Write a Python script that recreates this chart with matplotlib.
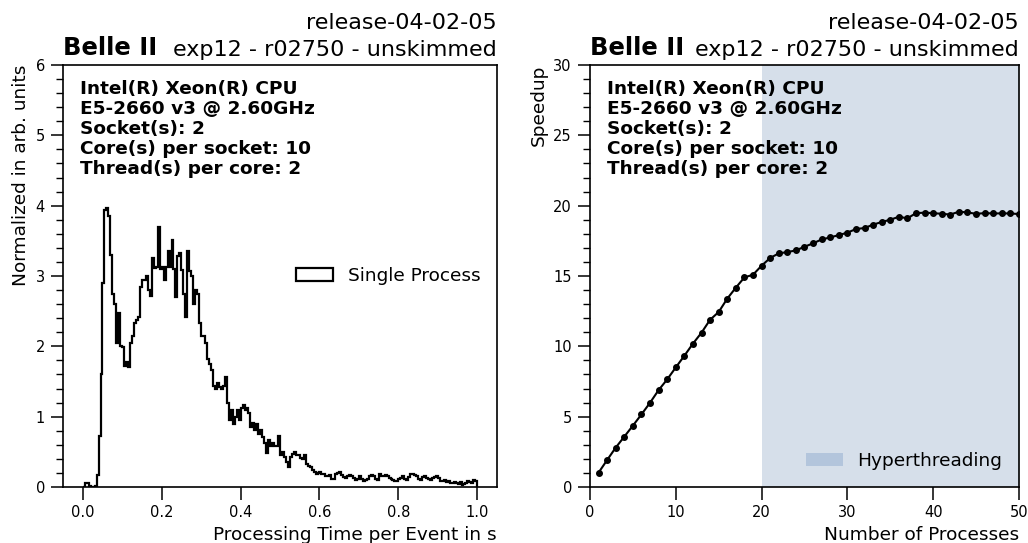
import numpy as np
import matplotlib
matplotlib.use("Agg")
import matplotlib.pyplot as plt
from matplotlib.ticker import MultipleLocator

# --- data ---
hist_values = [
    0.0, 0.06, 0.05, 0.02, 0.0, 0.0, 0.02, 0.17, 0.72, 1.6, 2.9,
    3.94, 3.96, 3.85, 3.3, 2.75, 2.6, 2.05, 2.48, 2.0, 1.99,
    1.72, 1.78, 1.70, 2.05, 2.14, 2.33, 2.38, 2.42, 2.85, 2.94,
    2.95, 3.0, 2.8, 2.72, 3.25, 3.12, 3.13, 3.70, 3.1, 3.13,
    2.94, 3.13, 3.35, 3.13, 3.51, 3.1, 2.70, 3.28, 3.32, 3.08,
    2.75, 2.42, 3.35, 3.07, 3.0, 2.6, 2.8, 2.75, 2.33, 2.14,
    2.14, 2.05, 1.82, 1.75, 1.66, 1.43, 1.40, 1.48, 1.42, 1.40,
    1.43, 1.57, 1.19, 0.95, 1.1, 0.9, 1.0, 1.1, 0.95, 1.13,
    1.17, 1.1, 1.13, 1.05, 0.86, 0.91, 0.81, 0.90, 0.76, 0.81,
    0.71, 0.62, 0.48, 0.67, 0.58, 0.62, 0.58, 0.58, 0.72, 0.45,
    0.50, 0.43, 0.35, 0.29, 0.42, 0.47, 0.50, 0.46, 0.45, 0.41,
    0.40, 0.45, 0.33, 0.30, 0.28, 0.24, 0.22, 0.19, 0.20, 0.21,
    0.18, 0.19, 0.15, 0.16, 0.17, 0.12, 0.11, 0.19, 0.20, 0.22,
    0.17, 0.14, 0.13, 0.16, 0.17, 0.15, 0.13, 0.10, 0.12, 0.15,
    0.12, 0.08, 0.10, 0.11, 0.15, 0.17, 0.16, 0.11, 0.10, 0.19,
    0.16, 0.15, 0.17, 0.16, 0.13, 0.11, 0.10, 0.09, 0.08, 0.12,
    0.13, 0.15, 0.12, 0.10, 0.14, 0.18, 0.19, 0.17, 0.16, 0.12,
    0.10, 0.14, 0.15, 0.13, 0.11, 0.10, 0.13, 0.14, 0.15, 0.13,
    0.08, 0.09, 0.10, 0.07, 0.08, 0.05, 0.06, 0.07, 0.05, 0.04,
    0.07, 0.03, 0.04, 0.06, 0.09, 0.07, 0.05, 0.10, 0.09,
]
hist_range = (0.0, 1.0)

n_processes = list(range(1, 51))
speedup = [
    1.02, 1.92, 2.80, 3.58, 4.36, 5.16, 5.99, 6.89, 7.65, 8.50,
    9.33, 10.19, 10.97, 11.89, 12.44, 13.39, 14.17, 14.90, 15.09, 15.73,
    16.28, 16.61, 16.70, 16.82, 17.08, 17.32, 17.60, 17.74, 17.91, 18.08,
    18.34, 18.41, 18.65, 18.84, 19.00, 19.21, 19.10, 19.47, 19.50, 19.47,
    19.42, 19.37, 19.57, 19.52, 19.42, 19.47, 19.45, 19.45, 19.45, 19.40,
]
physical_cores = 20

cpu_info = ("Intel(R) Xeon(R) CPU\nE5-2660 v3 @ 2.60GHz\nSocket(s): 2\n"
            "Core(s) per socket: 10\nThread(s) per core: 2")
release = "release-04-02-05"
run_info = "exp12 - r02750 - unskimmed"

plt.rcParams['font.family'] = ['DejaVu Sans']

fig = plt.figure(figsize=(10.28, 5.43), dpi=100)
ax1 = fig.add_axes([0.0613, 0.1031, 0.4222, 0.7772])
ax2 = fig.add_axes([0.5739, 0.1031, 0.4173, 0.7772])


def style_axes(ax):
    for sp in ax.spines.values():
        sp.set_linewidth(1.2)
    ax.tick_params(which='major', direction='out', length=9, width=1.1,
                   labelsize=10.5, pad=4)
    ax.tick_params(which='minor', direction='out', length=5, width=1.0)
    ax.text(0.0, 1.012, "Belle II", transform=ax.transAxes, ha='left',
            va='bottom', fontsize=17.5, fontweight='bold')
    ax.text(1.0, 1.012, run_info, transform=ax.transAxes, ha='right',
            va='bottom', fontsize=16)
    ax.text(1.0, 1.076, release, transform=ax.transAxes, ha='right',
            va='bottom', fontsize=16)
    ax.text(0.04, 0.965, cpu_info, transform=ax.transAxes, ha='left',
            va='top', fontsize=13.3, fontweight='bold', linespacing=1.15)


# left: processing time histogram
edges = np.linspace(hist_range[0], hist_range[1], len(hist_values) + 1)
centers = 0.5 * (edges[:-1] + edges[1:])
ax1.hist(centers, bins=edges, weights=hist_values, histtype='step',
         color='black', lw=1.6, label='Single Process')
ax1.set_xlim(-0.05, 1.05)
ax1.set_ylim(0, 6)
ax1.yaxis.set_minor_locator(MultipleLocator(0.2))
ax1.set_xlabel("Processing Time per Event in s", loc='right', fontsize=13.3)
ax1.set_ylabel("Normalized in arb. units", loc='top', fontsize=13.3)
ax1.legend(loc='center right', frameon=False, fontsize=13.3)
style_axes(ax1)

# right: speedup
ax2.axvspan(physical_cores, 50, color='#d6dfea', lw=0,
            label='Hyperthreading')
ax2.plot(n_processes, speedup, color='black', lw=1.5, marker='o',
         markersize=4)
ax2.set_xlim(0, 50)
ax2.set_ylim(0, 30)
ax2.yaxis.set_minor_locator(MultipleLocator(1))
ax2.set_xlabel("Number of Processes", loc='right', fontsize=13.3)
ax2.set_ylabel("Speedup", loc='top', fontsize=13.3)
leg = ax2.legend(loc='lower right', frameon=False, fontsize=13.3)
leg.legend_handles[0].set_facecolor('#b3c5dc')
style_axes(ax2)

fig.savefig("out.png", dpi=100)
